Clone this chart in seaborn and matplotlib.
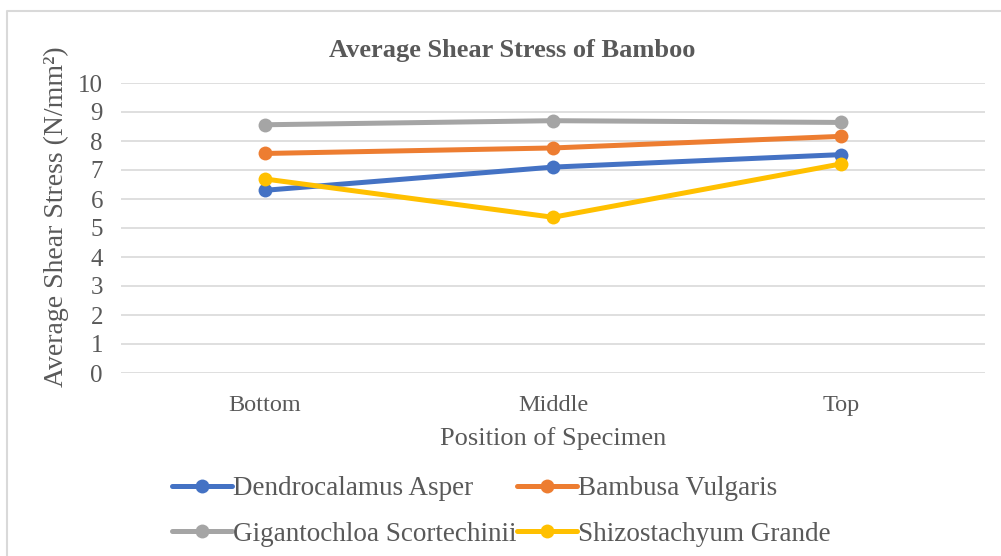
import pandas as pd
import matplotlib.pyplot as plt
import seaborn as sns
from matplotlib.lines import Line2D

sns.set_theme(style="white")
plt.rcParams['font.family'] = ['Liberation Serif', 'DejaVu Serif']

positions = ["Bottom", "Middle", "Top"]
dendrocalamus = [6.30, 7.10, 7.53]
bambusa = [7.57, 7.76, 8.16]
gigantochloa = [8.56, 8.70, 8.64]
shizostachyum = [6.69, 5.37, 7.21]

species = ["Dendrocalamus Asper", "Bambusa Vulgaris",
           "Gigantochloa Scortechinii", "Shizostachyum Grande"]
colors = ["#4472C4", "#ED7D31", "#A5A5A5", "#FFC000"]

rows = []
for name, vals in zip(species, [dendrocalamus, bambusa, gigantochloa, shizostachyum]):
    for pos, v in zip(positions, vals):
        rows.append({"Position": pos, "Stress": v, "Species": name})
df = pd.DataFrame(rows)

text_color = "#595959"

fig = plt.figure(figsize=(10.01, 5.56), dpi=100)
# chart-area border (only left and top edges fall inside the picture)
fig.add_artist(Line2D([7 / 1001, 7 / 1001, 1.0], [0.0, 1 - 11 / 556, 1 - 11 / 556],
                      transform=fig.transFigure, color="#D9D9D9", linewidth=1.5))
ax = fig.add_axes([121 / 1001, 1 - 373 / 556, 864 / 1001, 290 / 556])

sns.lineplot(data=df, x="Position", y="Stress", hue="Species",
             hue_order=species, palette=colors, marker="o", markersize=10,
             markeredgewidth=0, linewidth=3.6, ax=ax, legend=False)

ax.set_xlim(-0.5, 2.5)
ax.set_ylim(0, 10)
ax.set_yticks(range(0, 11))
ax.grid(axis="y", color="#D9D9D9", linewidth=1.2)
ax.set_axisbelow(True)
for s in ax.spines.values():
    s.set_visible(False)
ax.tick_params(axis="y", length=0, labelsize=18, colors=text_color, pad=13)
ax.tick_params(axis="x", length=0, labelsize=17.5, colors=text_color, pad=16)

ax.set_xlabel("Position of Specimen", fontsize=19, color=text_color, labelpad=8)
ax.set_ylabel("Average Shear Stress (N/mm²)", fontsize=20, color=text_color)
ax.yaxis.set_label_coords(-0.060, 0.538)
fig.text(512 / 1001, 1 - 50 / 556, "Average Shear Stress of Bamboo", ha="center", va="center",
         fontsize=19, fontweight="bold", color=text_color)

handles = [Line2D([], [], color=c, linewidth=3.6, marker="o", markersize=10,
                  markeredgewidth=0) for c in colors]
order = [0, 2, 1, 3]
fig.legend([handles[i] for i in order], [species[i] for i in order],
           loc="center", bbox_to_anchor=(501.5 / 1001, 1 - 511.5 / 556), ncol=2, frameon=False,
           fontsize=19.5, labelcolor=text_color, handlelength=2.2, handletextpad=0.05,
           columnspacing=0.0, labelspacing=0.75)

fig.savefig("out.png", dpi=100)
